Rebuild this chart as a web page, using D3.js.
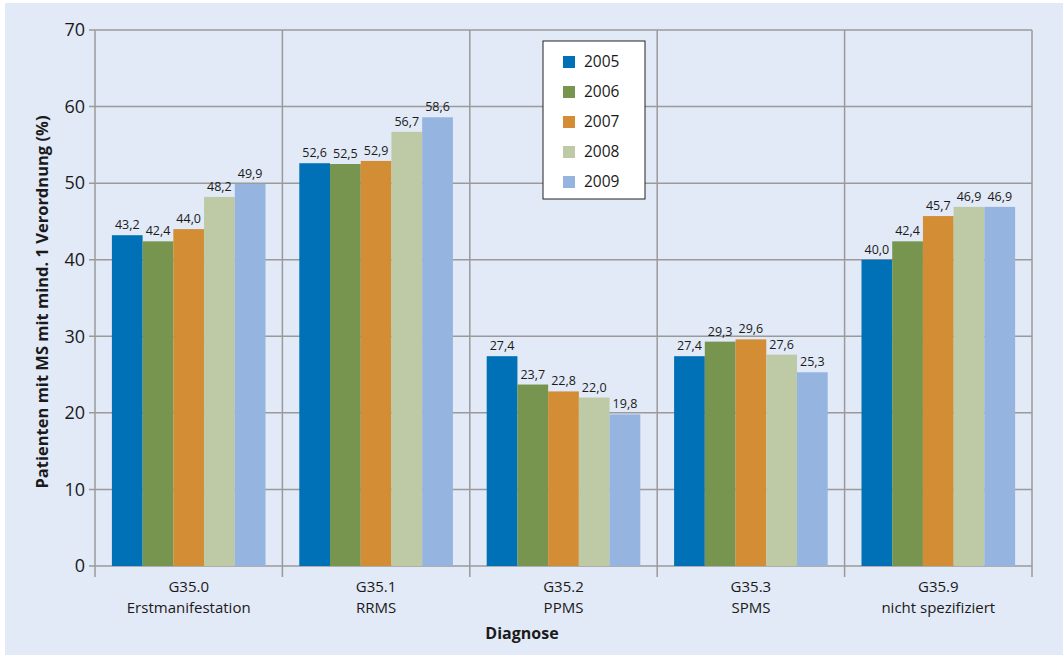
<!DOCTYPE html>
<html>
<head>
<meta charset="utf-8">
<script src="https://cdn.jsdelivr.net/npm/d3@7"></script>
<style>
	body { margin: 0; background: #fff; }
	text { font-family: "Open Sans", "Noto Sans", sans-serif; fill: #1a1a1a; }
	.grid line { stroke: #9a9a9a; stroke-width: 1.5; }
</style>
</head>
<body>
<svg></svg>
<script>
const categories = ['G35.0', 'G35.1', 'G35.2', 'G35.3', 'G35.9']
const subLabels = ['Erstmanifestation', 'RRMS', 'PPMS', 'SPMS', 'nicht spezifiziert']
const years = ['2005', '2006', '2007', '2008', '2009']
const colors = ['#0071b6', '#77954e', '#d38d34', '#bdcaa5', '#95b4df']
// values per year, one entry per category
const v2005 = [43.2, 52.6, 27.4, 27.4, 40.0]
const v2006 = [42.4, 52.5, 23.7, 29.3, 42.4]
const v2007 = [44.0, 52.9, 22.8, 29.6, 45.7]
const v2008 = [48.2, 56.7, 22.0, 27.6, 46.9]
const v2009 = [49.9, 58.6, 19.8, 25.3, 46.9]
const series = [v2005, v2006, v2007, v2008, v2009]
const yTicks = [0, 10, 20, 30, 40, 50, 60, 70]

const W = 1063, H = 657
const margin = {top: 30, right: 31, bottom: 91, left: 95},
	width = W - margin.left - margin.right,
	height = H - margin.top - margin.bottom

const svg = d3.select('svg').attr('width', W).attr('height', H)

svg.append('rect')
	.attr('x', 5).attr('y', 3)
	.attr('width', W - 5).attr('height', H - 5)
	.attr('fill', '#e2e9f7')

const g = svg.append('g')
	.attr('transform', `translate(${margin.left},${margin.top})`)

const x0 = d3.scaleBand().domain(categories).range([0, width])
const x1 = d3.scaleBand().domain(years).range([0, x0.bandwidth()]).paddingOuter(0.55)
const y = d3.scaleLinear().domain([0, 70]).range([height, 0])

// horizontal grid
g.append('g').attr('class', 'grid')
	.selectAll('line').data(yTicks).enter()
	.append('line')
	.attr('x1', -6).attr('x2', width)
	.attr('y1', d => y(d)).attr('y2', d => y(d))

// vertical separators
const seps = categories.map(c => x0(c)).concat([width])
g.append('g').attr('class', 'grid')
	.selectAll('line').data(seps).enter()
	.append('line')
	.attr('x1', d => d).attr('x2', d => d)
	.attr('y1', 0).attr('y2', height + 11)

// bars
const groups = g.selectAll('g.cat')
	.data(categories).enter()
	.append('g').attr('class', 'cat')
	.attr('transform', c => `translate(${x0(c)},0)`)

groups.selectAll('rect')
	.data((c, ci) => years.map((yr, i) => ({yr, i, v: series[i][ci]})))
	.enter().append('rect')
	.attr('x', d => x1(d.yr))
	.attr('width', x1.bandwidth())
	.attr('y', d => y(d.v))
	.attr('height', d => height - y(d.v))
	.attr('fill', d => colors[d.i])

groups.selectAll('text.val')
	.data((c, ci) => years.map((yr, i) => ({yr, i, v: series[i][ci]})))
	.enter().append('text')
	.attr('class', 'val')
	.attr('x', d => x1(d.yr) + x1.bandwidth() / 2)
	.attr('y', d => y(d.v) - 6)
	.attr('text-anchor', 'middle')
	.style('font-size', '12.5px')
	.text(d => d.v.toFixed(1).replace('.', ','))

// y tick labels
g.selectAll('text.ytick')
	.data(yTicks).enter()
	.append('text')
	.attr('class', 'ytick')
	.attr('x', -10)
	.attr('y', d => y(d))
	.attr('dy', '0.35em')
	.attr('text-anchor', 'end')
	.style('font-size', '18px')
	.text(d => d)

// category labels, two lines
g.selectAll('text.cat1')
	.data(categories).enter()
	.append('text')
	.attr('class', 'cat1')
	.attr('x', c => x0(c) + x0.bandwidth() / 2)
	.attr('y', height + 26)
	.attr('text-anchor', 'middle')
	.style('font-size', '15px')
	.text(c => c)
g.selectAll('text.cat2')
	.data(subLabels).enter()
	.append('text')
	.attr('class', 'cat2')
	.attr('x', (s, i) => x0(categories[i]) + x0.bandwidth() / 2)
	.attr('y', height + 47)
	.attr('text-anchor', 'middle')
	.style('font-size', '15px')
	.text(s => s)

g.append('text')
	.attr('x', 427).attr('y', height + 73)
	.attr('text-anchor', 'middle')
	.style('font-size', '16px')
	.style('font-weight', 'bold')
	.text('Diagnose')

svg.append('text')
	.attr('transform', `translate(42,${margin.top + height / 2 + 4}) rotate(-90)`)
	.attr('text-anchor', 'middle')
	.attr('dy', '0.35em')
	.style('font-size', '16.5px')
	.style('font-weight', 'bold')
	.text('Patienten mit MS mit mind. 1 Verordnung (%)')

// legend
const lg = svg.append('g').attr('transform', 'translate(543,41)')
lg.append('rect')
	.attr('width', 102).attr('height', 158)
	.attr('fill', '#fff').attr('stroke', '#222').attr('stroke-width', 1)
const li = lg.selectAll('g.item')
	.data(years).enter()
	.append('g').attr('class', 'item')
	.attr('transform', (d, i) => `translate(20,${21 + i * 30})`)
li.append('rect')
	.attr('x', 0).attr('y', -6)
	.attr('width', 12).attr('height', 12)
	.attr('fill', (d, i) => colors[i])
li.append('text')
	.attr('x', 21).attr('y', 0).attr('dy', '0.35em')
	.style('font-size', '15.5px')
	.text(d => d)
</script>
</body>
</html>
